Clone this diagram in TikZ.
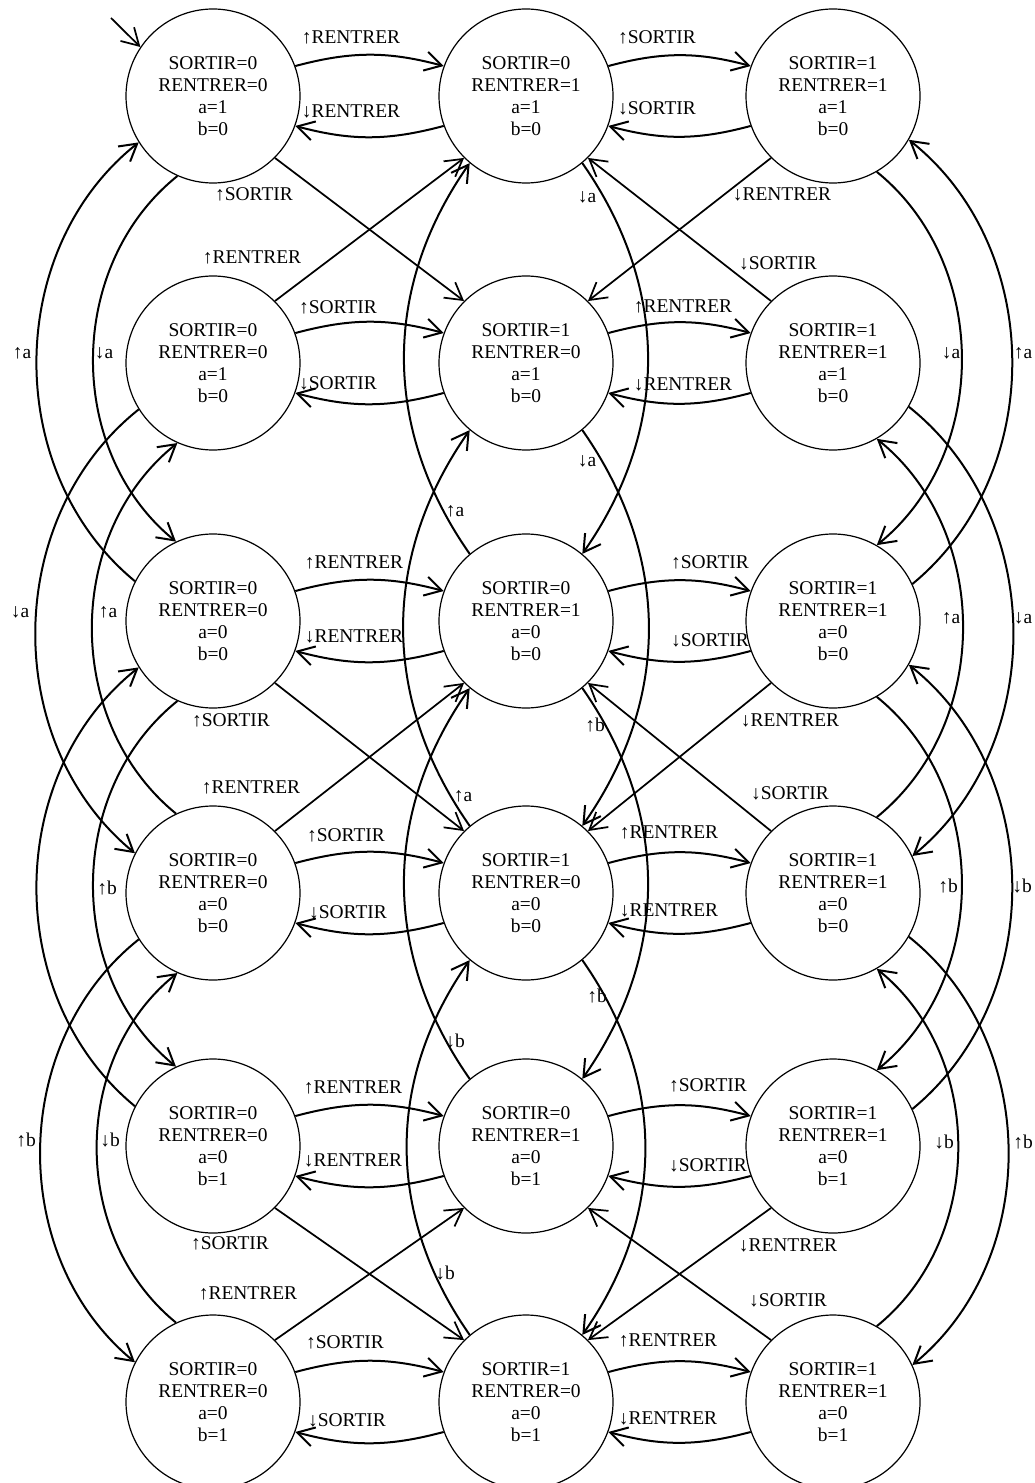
\documentclass[tikz,border=0pt]{standalone}
\usepackage{fontspec}
\setmainfont{Liberation Serif}
\usetikzlibrary{arrows.meta}
\newcommand\myfs{\fontsize{14.6}{16.5}\selectfont}
\newcommand\stt[4]{SORTIR=#1\\RENTRER=#2\\a=#3\\b=#4}
\begin{document}
\begin{tikzpicture}[x=0.75pt,y=-0.75pt,
  st/.style={circle,draw,line width=0.9pt,minimum size=130.5pt,inner sep=0pt,align=center,font=\myfs},
  lab/.style={font=\myfs,inner sep=0pt},
  arc/.style={line width=1.5pt,-{Straight Barb[length=12.5pt,width=14.5pt]}},
  diag/.style={line width=1.3pt,-{Straight Barb[length=12.5pt,width=14.5pt]}}]
\useasboundingbox (0,0) rectangle (1034,1483);
% states
\node[st] (n11) at (213,96) {\stt0010};
\node[st] (n12) at (526,96) {\stt0110};
\node[st] (n13) at (833,96) {\stt1110};
\node[st] (n21) at (213,363) {\stt0010};
\node[st] (n22) at (526,363) {\stt1010};
\node[st] (n23) at (833,363) {\stt1110};
\node[st] (n31) at (213,621) {\stt0000};
\node[st] (n32) at (526,621) {\stt0100};
\node[st] (n33) at (833,621) {\stt1100};
\node[st] (n41) at (213,893) {\stt0000};
\node[st] (n42) at (526,893) {\stt1000};
\node[st] (n43) at (833,893) {\stt1100};
\node[st] (n51) at (213,1146) {\stt0001};
\node[st] (n52) at (526,1146) {\stt0101};
\node[st] (n53) at (833,1146) {\stt1101};
\node[st] (n61) at (213,1402) {\stt0001};
\node[st] (n62) at (526,1402) {\stt1001};
\node[st] (n63) at (833,1402) {\stt1101};
% initial arrow
\coordinate (init) at (111,18);
\draw[diag] (init) -- (n11.146);
% horizontal arcs
\foreach \r in {1,...,6}{
  \draw[arc] (n\r1.20) to[bend left=15] (n\r2.160);
  \draw[arc] (n\r2.200) to[bend left=15] (n\r1.340);
  \draw[arc] (n\r2.20) to[bend left=15] (n\r3.160);
  \draw[arc] (n\r3.200) to[bend left=15] (n\r2.340);
}
% diagonals
\foreach \u/\l in {1/2,3/4,5/6}{
  \draw[diag] (n\u1.-45) -- (n\l2.135);
  \draw[diag] (n\l1.45) -- (n\u2.-135);
  \draw[diag] (n\u3.-135) -- (n\l2.45);
  \draw[diag] (n\l3.135) -- (n\u2.-45);
}
% left and right columns
\foreach \u/\l in {1/3,3/5}{
  \draw[arc] (n\l1.153) to[bend left=51] (n\u1.212);
  \draw[arc] (n\u1.246) to[bend right=51] (n\l1.115);
  \draw[arc] (n\l3.25) to[bend right=51] (n\u3.-30);
  \draw[arc] (n\u3.-60) to[bend left=51] (n\l3.60);
}
\foreach \u/\l in {2/4,4/6}{
  \draw[arc] (n\u1.212) to[bend right=51] (n\l1.153);
  \draw[arc] (n\l1.115) to[bend left=51] (n\u1.246);
  \draw[arc] (n\u3.-30) to[bend left=51] (n\l3.25);
  \draw[arc] (n\l3.60) to[bend right=51] (n\u3.-60);
}
% middle column
\foreach \u/\l in {1/3,2/4,3/5,4/6}{
  \draw[arc] (n\u2.-50) to[bend left=35] (n\l2.50);
  \draw[arc] (n\l2.130) to[bend left=35] (n\u2.230);
}
% labels horizontal
\node[lab] (t1a) at (351,37) {↑RENTRER};
\node[lab] (t1b) at (351,111) {↓RENTRER};
\node[lab] (t1c) at (657,37) {↑SORTIR};
\node[lab] (t1d) at (657,108) {↓SORTIR};
\node[lab] (d1a) at (254,194) {↑SORTIR};
\node[lab] (d1b) at (252,257) {↑RENTRER};
\node[lab] (d1c) at (782,194) {↓RENTRER};
\node[lab] (d1d) at (778,263) {↓SORTIR};
\node[lab] (t2a) at (338,307) {↑SORTIR};
\node[lab] (t2b) at (338,383) {↓SORTIR};
\node[lab] (t2c) at (683,306) {↑RENTRER};
\node[lab] (t2d) at (683,384) {↓RENTRER};
\node[lab] (t3a) at (354,562) {↑RENTRER};
\node[lab] (t3b) at (354,636) {↓RENTRER};
\node[lab] (t3c) at (710,562) {↑SORTIR};
\node[lab] (t3d) at (710,640) {↓SORTIR};
\node[lab] (d3a) at (231,720) {↑SORTIR};
\node[lab] (d3b) at (251,787) {↑RENTRER};
\node[lab] (d3c) at (790,720) {↓RENTRER};
\node[lab] (d3d) at (790,793) {↓SORTIR};
\node[lab] (t4a) at (346,835) {↑SORTIR};
\node[lab] (t4b) at (348,912) {↓SORTIR};
\node[lab] (t4c) at (669,832) {↑RENTRER};
\node[lab] (t4d) at (669,910) {↓RENTRER};
\node[lab] (t5a) at (353,1087) {↑RENTRER};
\node[lab] (t5b) at (353,1160) {↓RENTRER};
\node[lab] (t5c) at (708,1085) {↑SORTIR};
\node[lab] (t5d) at (708,1165) {↓SORTIR};
\node[lab] (d5a) at (230,1243) {↑SORTIR};
\node[lab] (d5b) at (248,1293) {↑RENTRER};
\node[lab] (d5c) at (788,1245) {↓RENTRER};
\node[lab] (d5d) at (788,1300) {↓SORTIR};
\node[lab] (t6a) at (345,1342) {↑SORTIR};
\node[lab] (t6b) at (347,1420) {↓SORTIR};
\node[lab] (t6c) at (668,1340) {↑RENTRER};
\node[lab] (t6d) at (668,1418) {↓RENTRER};
% labels vertical: left
\node[lab] (v1) at (22,353) {↑a};
\node[lab] (v2) at (104,353) {↓a};
\node[lab] (v3) at (20,612) {↓a};
\node[lab] (v4) at (108,612) {↑a};
\node[lab] (v5) at (107,888) {↑b};
\node[lab] (v6) at (26,1140) {↑b};
\node[lab] (v7) at (110,1140) {↓b};
% right
\node[lab] (w1) at (951,353) {↓a};
\node[lab] (w2) at (1023,353) {↑a};
\node[lab] (w3) at (951,618) {↑a};
\node[lab] (w4) at (1023,618) {↓a};
\node[lab] (w5) at (948,886) {↑b};
\node[lab] (w6) at (1022,886) {↓b};
\node[lab] (w7) at (944,1142) {↓b};
\node[lab] (w8) at (1023,1142) {↑b};
% middle
\node[lab] (m1) at (587,197) {↓a};
\node[lab] (m2) at (587,461) {↓a};
\node[lab] (m3) at (455,511) {↑a};
\node[lab] (m4) at (463,796) {↑a};
\node[lab] (m5) at (595,725) {↑b};
\node[lab] (m6) at (597,996) {↑b};
\node[lab] (m7) at (455,1041) {↓b};
\node[lab] (m8) at (445,1273) {↓b};
\end{tikzpicture}
\end{document}
